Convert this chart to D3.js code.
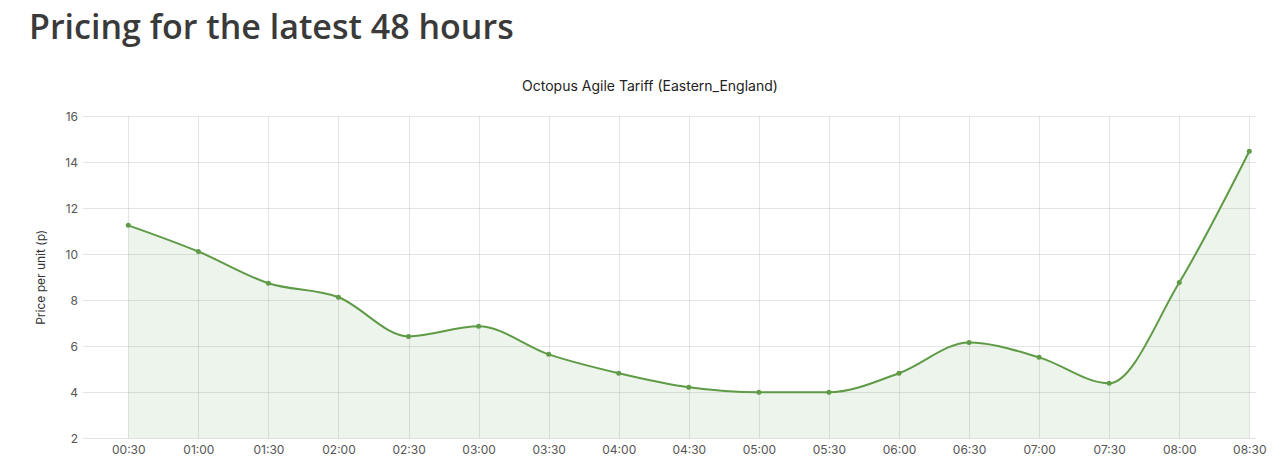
<!DOCTYPE html>
<html>
<head>
<meta charset="utf-8">
<script src="https://cdn.jsdelivr.net/npm/d3@7"></script>
<style>
  body { margin: 0; background: #fff; }
  svg { display: block; }
</style>
</head>
<body>
<svg id="chart"></svg>
<script>
const heading = "Pricing for the latest 48 hours";
const chartTitle = "Octopus Agile Tariff (Eastern_England)";
const yLabel = "Price per unit (p)";

const times = ["00:30", "01:00", "01:30", "02:00", "02:30", "03:00", "03:30", "04:00", "04:30",
  "05:00", "05:30", "06:00", "06:30", "07:00", "07:30", "08:00", "08:30"];
const prices = [11.26, 10.12, 8.74, 8.13, 6.43, 6.87, 5.65, 4.83, 4.22,
  4.0, 4.0, 4.83, 6.17, 5.52, 4.39, 8.77, 14.48];
const yTicks = [2, 4, 6, 8, 10, 12, 14, 16];

const W = 1280, H = 472;
const area = {left: 83, right: 1256, top: 116.3, bottom: 438.3};
const lineColor = "rgb(95, 155, 70)";
const font = "Inter, 'Liberation Sans', sans-serif";

const svg = d3.select("#chart").attr("width", W).attr("height", H);

const x = d3.scalePoint().domain(times).range([128.3, 1249.3]);
const y = d3.scaleLinear().domain([2, 16]).range([area.bottom, area.top]);

const data = times.map((t, i) => ({t, v: prices[i]}));

// page heading
svg.append("text")
  .attr("x", 29)
  .attr("y", 39)
  .attr("font-family", "'Open Sans', sans-serif")
  .attr("font-weight", 600)
  .attr("font-size", 34)
  .attr("fill", "#3a3a3a")
  .text(heading);

// chart title
svg.append("text")
  .attr("x", 650)
  .attr("y", 91)
  .attr("text-anchor", "middle")
  .attr("font-family", font)
  .attr("font-size", 14)
  .attr("fill", "#222")
  .text(chartTitle);

// grid
const grid = svg.append("g").attr("stroke", "rgba(0,0,0,0.1)").attr("stroke-width", 1);
grid.selectAll("line.h")
  .data(yTicks)
  .join("line")
  .attr("class", "h")
  .attr("x1", area.left)
  .attr("x2", area.right)
  .attr("y1", d => Math.round(y(d)) + 0.5)
  .attr("y2", d => Math.round(y(d)) + 0.5);
grid.selectAll("line.v")
  .data(times)
  .join("line")
  .attr("class", "v")
  .attr("x1", d => Math.round(x(d)) + 0.5)
  .attr("x2", d => Math.round(x(d)) + 0.5)
  .attr("y1", area.top)
  .attr("y2", area.bottom);

// y ticks
const yAxis = svg.append("g")
  .attr("transform", `translate(${area.left - 5},0)`)
  .call(d3.axisLeft(y).tickValues(yTicks).tickSize(0).tickPadding(0));
yAxis.select(".domain").remove();
yAxis.selectAll("text")
  .attr("font-family", font)
  .attr("font-size", 12)
  .attr("fill", "#555");

// x ticks
const xAxis = svg.append("g")
  .attr("transform", `translate(0,${area.bottom + 7})`)
  .call(d3.axisBottom(x).tickSize(0).tickPadding(0));
xAxis.select(".domain").remove();
xAxis.selectAll("text")
  .attr("font-family", font)
  .attr("font-size", 12)
  .attr("fill", "#555");

// y axis title
svg.append("text")
  .attr("transform", `translate(45,${(area.top + area.bottom) / 2}) rotate(-90)`)
  .attr("text-anchor", "middle")
  .attr("font-family", font)
  .attr("font-size", 12)
  .attr("fill", "#333")
  .text(yLabel);

// filled area + line
svg.append("path")
  .datum(data)
  .attr("fill", "rgba(95, 155, 70, 0.11)")
  .attr("d", d3.area()
    .x(d => x(d.t))
    .y0(area.bottom)
    .y1(d => y(d.v))
    .curve(d3.curveMonotoneX));

svg.append("path")
  .datum(data)
  .attr("fill", "none")
  .attr("stroke", lineColor)
  .attr("stroke-width", 2)
  .attr("d", d3.line()
    .x(d => x(d.t))
    .y(d => y(d.v))
    .curve(d3.curveMonotoneX));

svg.append("g")
  .selectAll("circle")
  .data(data)
  .join("circle")
  .attr("cx", d => x(d.t))
  .attr("cy", d => y(d.v))
  .attr("r", 2.5)
  .attr("fill", lineColor);
</script>
</body>
</html>
